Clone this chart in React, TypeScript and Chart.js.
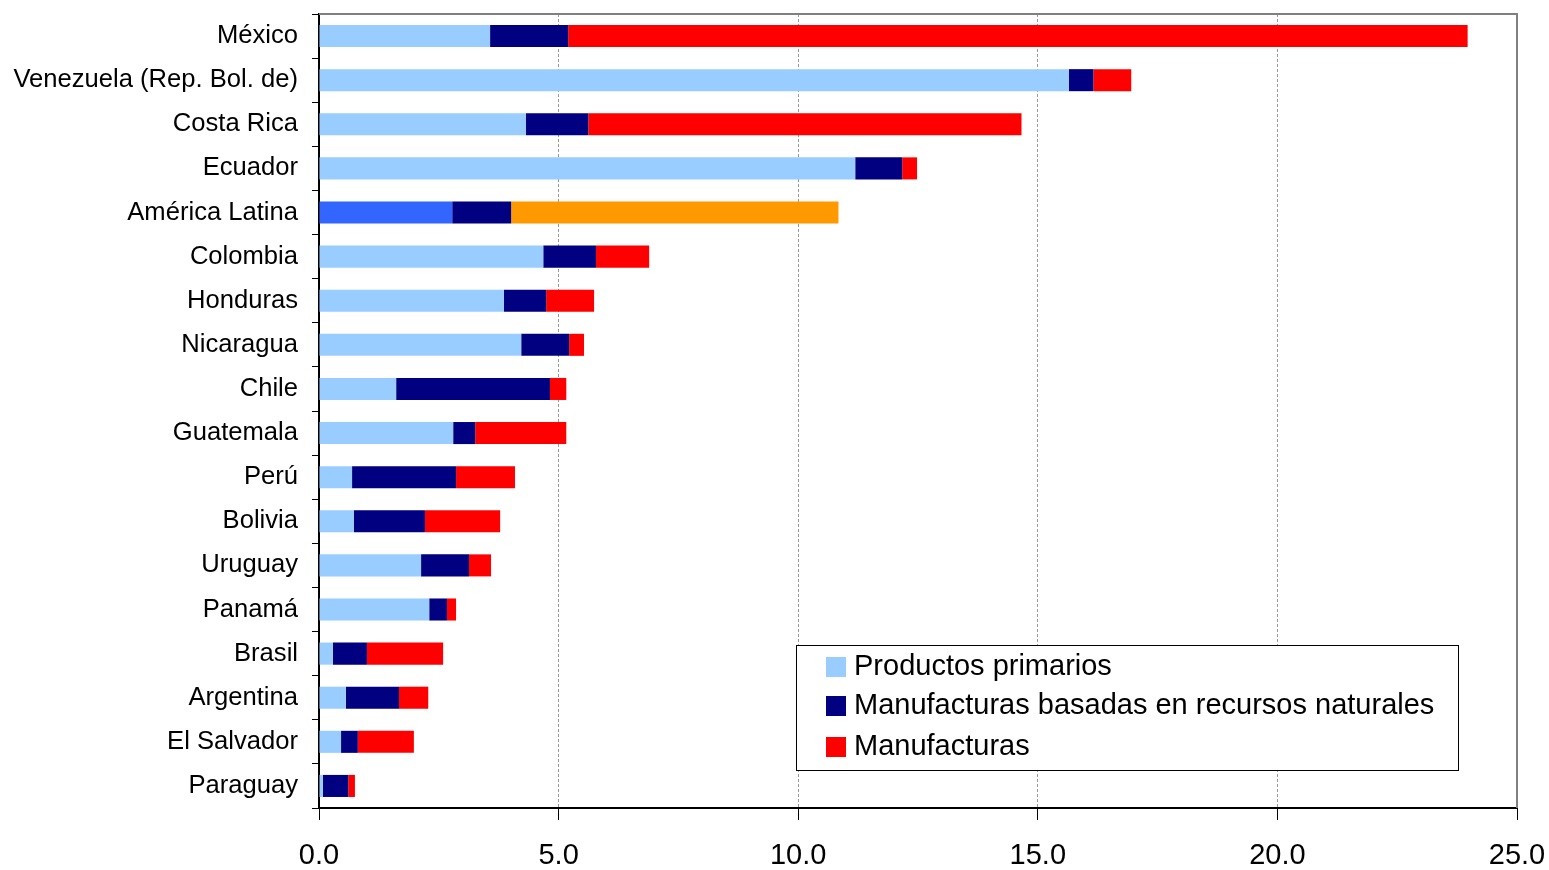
import React, { useEffect, useRef } from "react";
import { Chart, registerables } from "chart.js";

Chart.register(...registerables);

const categories = [
  "México",
  "Venezuela (Rep. Bol. de)",
  "Costa Rica",
  "Ecuador",
  "América Latina",
  "Colombia",
  "Honduras",
  "Nicaragua",
  "Chile",
  "Guatemala",
  "Perú",
  "Bolivia",
  "Uruguay",
  "Panamá",
  "Brasil",
  "Argentina",
  "El Salvador",
  "Paraguay",
];

const productosPrimarios = [3.57, 15.65, 4.32, 11.19, 2.78, 4.68, 3.86, 4.22, 1.61, 2.8, 0.69, 0.73, 2.13, 2.3, 0.29, 0.56, 0.46, 0.08];
const manufRecursosNaturales = [1.63, 0.51, 1.3, 0.98, 1.23, 1.1, 0.88, 1.0, 3.21, 0.46, 2.17, 1.48, 1.0, 0.37, 0.71, 1.11, 0.35, 0.53];
const manufacturas = [18.77, 0.79, 9.04, 0.31, 6.83, 1.11, 1.0, 0.31, 0.34, 1.9, 1.23, 1.57, 0.46, 0.19, 1.59, 0.61, 1.17, 0.14];

const xTicks = [0, 5, 10, 15, 20, 25];

const seriesNames = [
  "Productos primarios",
  "Manufacturas basadas en recursos naturales",
  "Manufacturas",
];
const seriesColors = ["#99CCFF", "#000080", "#FF0000"];
const highlightColors = ["#3366FF", "#000080", "#FF9900"];
const highlightCategory = "América Latina";

const FONT = "Arial, 'Liberation Sans', sans-serif";

function colorsFor(i: number) {
  return categories.map((c) => (c === highlightCategory ? highlightColors[i] : seriesColors[i]));
}

const framePlugin = {
  id: "frame",
  afterDraw(chart: any) {
    const { ctx, chartArea } = chart;
    ctx.save();
    ctx.strokeStyle = "#808080";
    ctx.lineWidth = 2;
    ctx.beginPath();
    ctx.moveTo(chartArea.left, chartArea.top);
    ctx.lineTo(chartArea.right, chartArea.top);
    ctx.lineTo(chartArea.right, chartArea.bottom);
    ctx.stroke();
    ctx.restore();
  },
};

const boxLegendPlugin = {
  id: "boxLegend",
  afterDraw(chart: any) {
    const { ctx } = chart;
    const x = 796.5, y = 645.5, w = 662, h = 125;
    ctx.save();
    ctx.fillStyle = "#FFFFFF";
    ctx.fillRect(x, y, w, h);
    ctx.strokeStyle = "#000000";
    ctx.lineWidth = 1;
    ctx.strokeRect(x, y, w, h);
    ctx.font = `29px ${FONT}`;
    ctx.textBaseline = "middle";
    ctx.textAlign = "left";
    const rows = [667, 706, 747];
    chart.data.datasets.forEach((ds: any, i: number) => {
      ctx.fillStyle = seriesColors[i];
      ctx.fillRect(826, rows[i] - 10, 20, 20);
      ctx.fillStyle = "#000000";
      ctx.fillText(ds.label, 854, rows[i]);
    });
    ctx.restore();
  },
};

export default function App() {
  const ref = useRef<HTMLCanvasElement | null>(null);

  useEffect(() => {
    if (!ref.current) return;
    const series = [productosPrimarios, manufRecursosNaturales, manufacturas];
    const chart = new Chart(ref.current, {
      type: "bar",
      data: {
        labels: categories,
        datasets: series.map((d, i) => ({
          label: seriesNames[i],
          data: d,
          backgroundColor: colorsFor(i),
          borderWidth: 0,
          barPercentage: 0.5,
          categoryPercentage: 1,
        })),
      },
      options: {
        indexAxis: "y",
        responsive: false,
        animation: false,
        layout: { padding: { top: 14, right: 32, left: 0, bottom: 0 } },
        plugins: {
          legend: { display: false },
          tooltip: { enabled: false },
        },
        scales: {
          x: {
            stacked: true,
            min: 0,
            max: 25,
            afterBuildTicks: (scale: any) => {
              scale.ticks = xTicks.map((v) => ({ value: v }));
            },
            afterFit: (scale: any) => {
              scale.height = 62;
              scale.paddingLeft = 0;
              scale.paddingRight = 0;
            },
            grid: {
              color: (c: any) => (c.tick && (c.tick.value === 0 || c.tick.value === 25) ? "rgba(0,0,0,0)" : "#999999"),
              lineWidth: 1,
              tickColor: "#000000",
              tickLength: 12,
              tickBorderDash: [],
              drawTicks: true,
            },
            border: { color: "#000000", width: 2, dash: [3, 2] },
            ticks: {
              color: "#000000",
              font: { family: FONT, size: 29 },
              padding: 19,
              maxRotation: 0,
              callback: (v: any) => Number(v).toFixed(1),
            },
          },
          y: {
            stacked: true,
            afterFit: (scale: any) => {
              scale.width = 319;
              scale.paddingTop = 0;
              scale.paddingBottom = 0;
            },
            grid: {
              offset: true,
              drawOnChartArea: false,
              tickColor: "#000000",
              tickLength: 7,
            },
            border: { color: "#000000", width: 2 },
            ticks: {
              color: "#000000",
              font: { family: FONT, size: 25.6 },
              padding: 14,
              autoSkip: false,
            },
          },
        },
      },
      plugins: [framePlugin, boxLegendPlugin],
    } as any);
    return () => chart.destroy();
  }, []);

  return (
    <div style={{ position: "absolute", left: 0, top: 0, width: 1549, height: 870, background: "#fff" }}>
      <canvas ref={ref} width={1549} height={870} style={{ display: "block" }} />
    </div>
  );
}
